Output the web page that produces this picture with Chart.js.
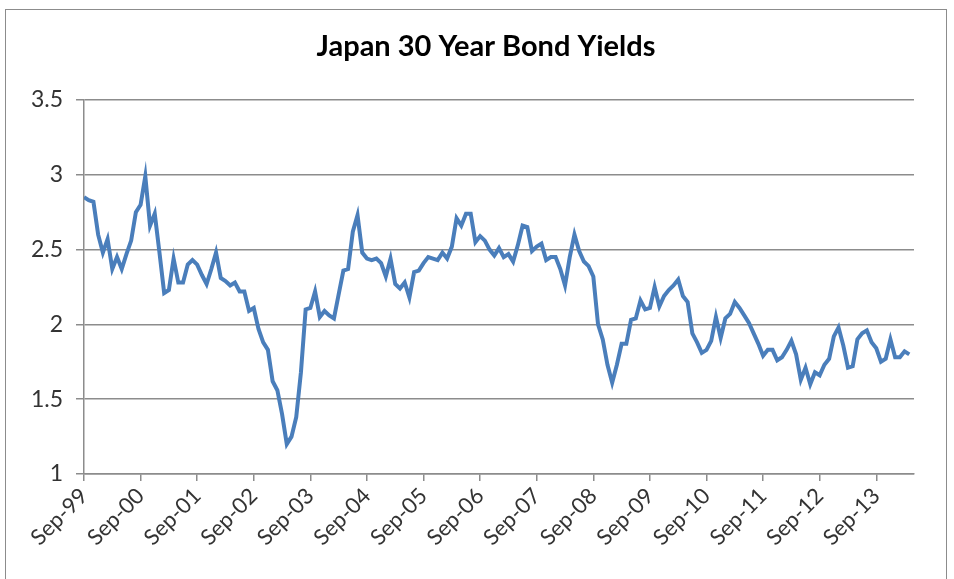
<!DOCTYPE html>
<html>
<head>
<meta charset="utf-8">
<script src="https://cdn.jsdelivr.net/npm/chart.js@4.4.1/dist/chart.umd.min.js"></script>
<style>
  html, body { margin: 0; padding: 0; background: #fff; }
  #wrap { position: relative; width: 954px; height: 579px; overflow: hidden; }
  #frame { position: absolute; left: 5px; top: 9px; width: 942px; height: 590px; border: 1px solid #8c8c8c; box-sizing: border-box; pointer-events: none; }
  canvas { position: absolute; left: 0; top: 0; }
</style>
</head>
<body>
<div id="wrap">
  <canvas id="chart" width="954" height="579"></canvas>
  <div id="frame"></div>
</div>
<script>
// monthly yields, Sep-99 .. Apr-14
const yields = [
  2.85, 2.83, 2.82, 2.60, 2.48, 2.57, 2.37, 2.45, 2.37, 2.47, 2.56, 2.75,
  2.80, 2.99, 2.66, 2.74, 2.48, 2.21, 2.23, 2.44, 2.28, 2.28, 2.40, 2.43,
  2.40, 2.33, 2.27, 2.37, 2.48, 2.31, 2.29, 2.26, 2.28, 2.22, 2.22, 2.09,
  2.11, 1.97, 1.88, 1.83, 1.62, 1.56, 1.40, 1.20, 1.25, 1.38, 1.68, 2.10,
  2.11, 2.22, 2.05, 2.09, 2.06, 2.04, 2.20, 2.36, 2.37, 2.62, 2.73, 2.48,
  2.44, 2.43, 2.44, 2.41, 2.32, 2.44, 2.27, 2.24, 2.28, 2.18, 2.35, 2.36,
  2.41, 2.45, 2.44, 2.43, 2.48, 2.44, 2.52, 2.71, 2.66, 2.74, 2.74, 2.55,
  2.59, 2.56, 2.50, 2.46, 2.51, 2.45, 2.47, 2.42, 2.53, 2.66, 2.65, 2.49,
  2.52, 2.54, 2.43, 2.45, 2.45, 2.37, 2.26, 2.45, 2.60, 2.49, 2.42, 2.39,
  2.32, 2.00, 1.90, 1.73, 1.61, 1.73, 1.87, 1.87, 2.03, 2.04, 2.16, 2.10,
  2.11, 2.25, 2.12, 2.19, 2.23, 2.26, 2.30, 2.19, 2.15, 1.94, 1.88, 1.81,
  1.83, 1.89, 2.05, 1.91, 2.04, 2.07, 2.15, 2.11, 2.06, 2.01, 1.94, 1.87,
  1.79, 1.83, 1.83, 1.76, 1.78, 1.83, 1.89, 1.80, 1.63, 1.71, 1.60, 1.68,
  1.66, 1.73, 1.77, 1.92, 1.98, 1.86, 1.71, 1.72, 1.90, 1.94, 1.96, 1.88,
  1.84, 1.75, 1.77, 1.90, 1.78, 1.78, 1.82, 1.80
];
const tickLabels = ['Sep-99', 'Sep-00', 'Sep-01', 'Sep-02', 'Sep-03', 'Sep-04', 'Sep-05',
  'Sep-06', 'Sep-07', 'Sep-08', 'Sep-09', 'Sep-10', 'Sep-11', 'Sep-12', 'Sep-13'];
const yTicks = [1, 1.5, 2, 2.5, 3, 3.5];
const TITLE = 'Japan 30 Year Bond Yields';

const GRID = '#8c8c8c';
const LABEL = '#333333';

const points = yields.map((v, i) => ({ x: i, y: v }));

// the built-in title centres on the whole canvas; the reference sits a bit further right
const titlePlugin = {
  id: 'offsetTitle',
  afterDraw(chart) {
    const ctx = chart.ctx;
    ctx.save();
    ctx.font = "bold 29px Lato";
    ctx.fillStyle = '#000';
    ctx.textAlign = 'center';
    ctx.textBaseline = 'middle';
    ctx.fillText(TITLE, 486, 47);
    ctx.restore();
  }
};

new Chart(document.getElementById('chart'), {
  type: 'line',
  data: {
    datasets: [{
      data: points,
      borderColor: '#4a7ebb',
      borderWidth: 4,
      pointRadius: 0,
      tension: 0,
      fill: false
    }]
  },
  options: {
    responsive: false,
    animation: false,
    layout: { padding: { top: 100, right: 40, bottom: 0, left: 0 } },
    plugins: {
      legend: { display: false },
      tooltip: { enabled: false },
      title: { display: false }
    },
    scales: {
      x: {
        type: 'linear',
        min: 0,
        max: 176,
        afterFit: (scale) => { scale.height = 105; },
        afterBuildTicks: (scale) => {
          scale.ticks = tickLabels.map((_, i) => ({ value: i * 12 }));
        },
        ticks: {
          autoSkip: false,
          minRotation: 45,
          maxRotation: 45,
          padding: 2,
          color: LABEL,
          font: { family: 'Lato', size: 22 },
          callback: (v) => tickLabels[Math.round(v / 12)] || ''
        },
        grid: { drawOnChartArea: false, drawTicks: true, tickLength: 7, color: GRID, lineWidth: 1.5 },
        border: { display: true, color: GRID, width: 1.5 }
      },
      y: {
        min: 1,
        max: 3.5,
        afterFit: (scale) => {
          scale.width = 84;
          scale.paddingTop = 0;
          scale.paddingBottom = 0;
        },
        afterBuildTicks: (scale) => {
          scale.ticks = yTicks.map(v => ({ value: v }));
        },
        ticks: {
          padding: 13,
          color: LABEL,
          font: { family: 'Lato', size: 23 },
          callback: (v) => String(v)
        },
        grid: { color: GRID, lineWidth: 1.5, tickLength: 8 },
        border: { display: true, color: GRID, width: 1.5 }
      }
    }
  },
  plugins: [titlePlugin]
});
</script>
</body>
</html>
